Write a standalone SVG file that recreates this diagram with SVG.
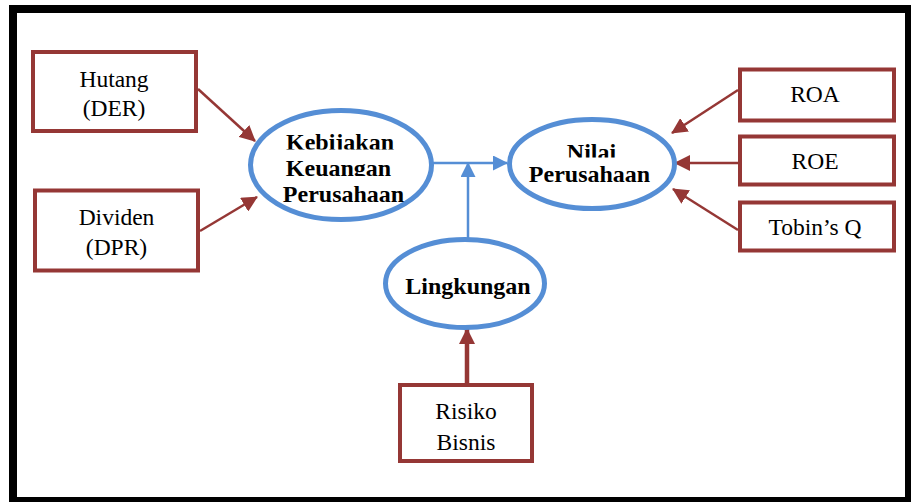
<svg xmlns="http://www.w3.org/2000/svg" width="911" height="502" viewBox="0 0 911 502">
  <style>
    .box { fill: #ffffff; stroke: #953735; stroke-width: 4; }
    .ell { fill: #ffffff; stroke: #558ED5; stroke-width: 5; }
    .reg { font-family: 'Liberation Serif', 'DejaVu Serif', serif; font-size: 23.5px; fill: #000000; text-anchor: middle; }
    .bold { font-family: 'Liberation Serif', 'DejaVu Serif', serif; font-size: 24px; font-weight: bold; fill: #000000; text-anchor: middle; }
    .red { fill: none; stroke: #953735; stroke-width: 2.5; }
    .redthick { fill: none; stroke: #953735; stroke-width: 4.5; }
    .blue { fill: none; stroke: #558ED5; stroke-width: 2.5; }
  </style>
  <defs>
    <marker id="arrRed" markerUnits="userSpaceOnUse" markerWidth="16" markerHeight="16" viewBox="0 0 16 16" refX="15" refY="8" orient="auto">
      <path d="M0,0 L16,8 L0,16 z" fill="#953735"/>
    </marker>
    <marker id="arrBlue" markerUnits="userSpaceOnUse" markerWidth="15" markerHeight="15" viewBox="0 0 15 15" refX="14" refY="7.5" orient="auto">
      <path d="M0,0 L15,7.5 L0,15 z" fill="#558ED5"/>
    </marker>
    <clipPath id="clipKeb"><rect x="250" y="120" width="200" height="29.5"/></clipPath>
    <clipPath id="clipKeu"><rect x="250" y="150" width="200" height="26"/></clipPath>
    <clipPath id="clipNil"><rect x="520" y="130" width="150" height="27.5"/></clipPath>
  </defs>

  <rect id="frame" x="13" y="9" width="896" height="492" fill="#ffffff" stroke="#000000" stroke-width="8"/>

  <g id="connectors">
    <line class="red" x1="198" y1="89" x2="255" y2="141" marker-end="url(#arrRed)"/>
    <line class="red" x1="200" y1="231" x2="257" y2="197" marker-end="url(#arrRed)"/>
    <line class="red" x1="738" y1="90" x2="672" y2="133" marker-end="url(#arrRed)"/>
    <line class="red" x1="738" y1="163" x2="675" y2="163" marker-end="url(#arrRed)"/>
    <line class="red" x1="738" y1="230" x2="673" y2="189" marker-end="url(#arrRed)"/>
    <line class="redthick" x1="467" y1="385" x2="467" y2="329" marker-end="url(#arrRed)"/>
    <line class="blue" x1="433" y1="163" x2="507" y2="163" marker-end="url(#arrBlue)"/>
    <line class="blue" x1="468" y1="240" x2="468" y2="163" marker-end="url(#arrBlue)"/>
  </g>

  <g id="node-hutang">
    <rect class="box" x="33" y="52" width="163" height="79"/>
    <text class="reg" x="114" y="87">Hutang</text>
    <text class="reg" x="114" y="116">(DER)</text>
  </g>

  <g id="node-dividen">
    <rect class="box" x="35" y="190.5" width="163" height="80"/>
    <text class="reg" x="116.5" y="224.5">Dividen</text>
    <text class="reg" x="116.5" y="255">(DPR)</text>
  </g>

  <g id="node-roa">
    <rect class="box" x="740" y="69.5" width="154" height="51"/>
    <text class="reg" x="815" y="102">ROA</text>
  </g>

  <g id="node-roe">
    <rect class="box" x="740" y="136.5" width="154" height="48"/>
    <text class="reg" x="815" y="168.5">ROE</text>
  </g>

  <g id="node-tobin">
    <rect class="box" x="740" y="202.5" width="154" height="48"/>
    <text class="reg" x="815" y="235">Tobin’s Q</text>
  </g>

  <g id="node-risiko">
    <rect class="box" x="400" y="385" width="132" height="76"/>
    <text class="reg" x="466" y="419">Risiko</text>
    <text class="reg" x="466" y="450">Bisnis</text>
  </g>

  <g id="node-kebijakan">
    <ellipse class="ell" cx="341" cy="165" rx="90.5" ry="54.5"/>
    <text class="bold" x="340" y="149.5" clip-path="url(#clipKeb)">Kebijakan</text>
    <text class="bold" x="338.5" y="175.5" clip-path="url(#clipKeu)">Keuangan</text>
    <text class="bold" x="343.5" y="201.5">Perusahaan</text>
  </g>

  <g id="node-nilai">
    <ellipse class="ell" cx="592" cy="164" rx="82.5" ry="44.5"/>
    <text class="bold" x="591.5" y="160" clip-path="url(#clipNil)">Nilai</text>
    <text class="bold" x="589.5" y="181.5">Perusahaan</text>
  </g>

  <g id="node-lingkungan">
    <ellipse class="ell" cx="465" cy="283.5" rx="79.5" ry="44"/>
    <text class="bold" x="468" y="294">Lingkungan</text>
  </g>
</svg>
